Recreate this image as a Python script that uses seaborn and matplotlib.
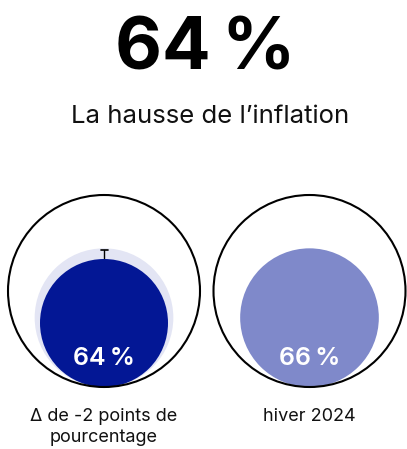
import matplotlib
matplotlib.use("Agg")
import matplotlib.pyplot as plt
from matplotlib.patches import Circle
import seaborn as sns

# data
headline = "64\u202f%"
subtitle = "La hausse de l\u2019inflation"
categories = ["\u0394 de -2 points de\npourcentage", "hiver 2024"]
values = [0.64, 0.66]
previous = [0.66, None]
err_low = [0.623, None]
err_high = [0.657, None]
fill_colors = ["#031795", "#7f89ca"]
prev_color = "#e3e5f4"

sns.set_theme(style="white")
plt.rcParams["font.family"] = ["Inter", "DejaVu Sans"]

W, H = 407, 449
fig = plt.figure(figsize=(W / 100, H / 100), dpi=100)
ax = fig.add_axes([0, 0, 1, 1])
ax.set_xlim(0, W)
ax.set_ylim(H, 0)
ax.axis("off")

R = 96          # outer circle radius (px)
base = 387      # common bottom of circles
x0, dx = 104, 205.5


def radius(v):
    # linear scale: 0.40 -> 0, 0.76 -> R
    return R * (v - 0.40) / 0.36


for i, (cat, v) in enumerate(zip(categories, values)):
    cx = x0 + i * dx
    ax.add_patch(Circle((cx, base - R), R, fill=False, ec="black", lw=1.5, zorder=5))
    if previous[i] is not None:
        rp = radius(previous[i])
        ax.add_patch(Circle((cx, base - rp), rp, fc=prev_color, ec="none", zorder=1))
    if err_low[i] is not None:
        lo, hi = base - 2 * radius(err_low[i]), base - 2 * radius(err_high[i])
        ax.plot([cx, cx], [lo, hi], color="black", lw=1, zorder=2)
        ax.plot([cx - 3.5, cx + 3.5], [hi, hi], color="black", lw=1.2, zorder=2)
    r = radius(v)
    ax.add_patch(Circle((cx, base - r), r, fc=fill_colors[i], ec="none", zorder=3))
    ax.text(cx, base - 22, f"{round(v * 100)}\u202f%", color="white", fontsize=18,
            fontweight="semibold", ha="center", va="baseline", zorder=6)
    for j, line in enumerate(cat.split("\n")):
        ax.text(cx, 421 + 21 * j, line, fontsize=13, ha="center", va="baseline",
                color="#111111")

ax.text(205, 70, headline, fontsize=52, fontweight="bold", ha="center", va="baseline",
        color="black")
ax.text(210, 123, subtitle, fontsize=18.5, ha="center", va="baseline", color="#111111")

fig.savefig("out.png", dpi=100)
